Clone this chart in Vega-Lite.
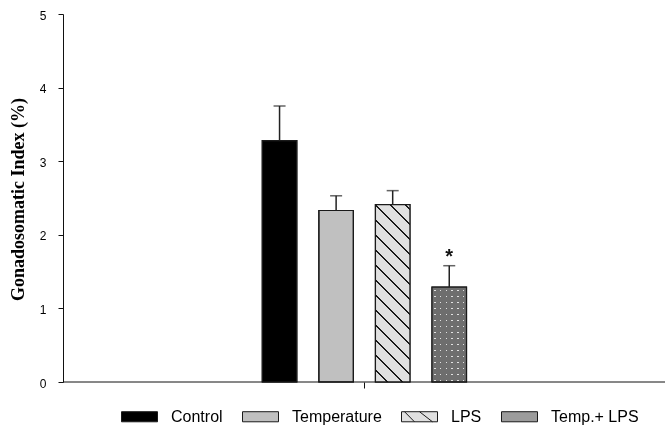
{
  "$schema": "https://vega.github.io/schema/vega-lite/v6.json",
  "autosize": "none",
  "width": 602,
  "height": 368,
  "padding": {"left": 63, "top": 14, "right": 3, "bottom": 47},
  "background": "white",
  "config": {"view": {"stroke": null}, "axis": {"grid": false}},
  "data": {
    "values": [
      {"group": "Control", "gsi": 3.28, "upper": 3.75, "sig": ""},
      {"group": "Temperature", "gsi": 2.33, "upper": 2.53, "sig": ""},
      {"group": "LPS", "gsi": 2.41, "upper": 2.6, "sig": ""},
      {"group": "Temp.+ LPS", "gsi": 1.29, "upper": 1.58, "sig": "*"}
    ]
  },
  "encoding": {
    "y": {
      "field": "gsi",
      "type": "quantitative",
      "scale": {"domain": [0, 5], "nice": false},
      "axis": {
        "title": "Gonadosomatic Index (%)",
        "titleFont": "Liberation Serif",
        "titleFontWeight": "bold",
        "titleFontSize": 18,
        "titleColor": "#000",
        "titleX": -40,
        "titleY": 185,
        "titleAngle": -90,
        "titleAlign": "center",
        "titleBaseline": "alphabetic",
        "values": [0, 1, 2, 3, 4, 5],
        "labelFont": "Liberation Sans",
        "labelFontSize": 12,
        "labelColor": "#000",
        "labelPadding": 12,
        "labelOffset": 1,
        "tickSize": 5,
        "tickColor": "#111",
        "domainColor": "#111",
        "domainWidth": 1
      }
    }
  },
  "layer": [
    {
      "encoding": {
        "x": {
          "field": "group",
          "type": "nominal",
          "sort": null,
          "scale": {
            "domain": ["Control", "Temperature", "LPS", "Temp.+ LPS"],
            "range": [199.3, 403.5],
            "paddingInner": 0.39,
            "paddingOuter": 0
          },
          "axis": {
            "title": null,
            "labels": false,
            "domain": false,
            "values": ["Temperature"],
            "bandPosition": 0.5,
            "tickOffset": 27.8,
            "tickSize": 6,
            "tickColor": "#111",
            "tickWidth": 1
          }
        }
      },
      "layer": [
        {
          "mark": {"type": "bar", "stroke": "#1a1a1a", "strokeWidth": 1.2},
          "encoding": {
            "fill": {
              "field": "group",
              "type": "nominal",
              "scale": {
                "domain": ["Control", "Temperature", "LPS", "Temp.+ LPS"],
                "range": ["#000000", "#c0c0c0", "#e0e0e0", "#9c9c9c"]
              }
            }
          }
        },
        {
          "transform": [{"filter": "datum.group === 'LPS'"}],
          "mark": {
            "type": "bar",
            "fill": {
              "gradient": "linear",
              "x1": 0, "y1": 1, "x2": 0.2336, "y2": -0.2,
              "stops": [
                {"offset": 0, "color": "#e0e0e0"},
                {"offset": 0.0498, "color": "#e0e0e0"}, {"offset": 0.0498, "color": "#1a1a1a"}, {"offset": 0.0588, "color": "#1a1a1a"}, {"offset": 0.0588, "color": "#e0e0e0"},
                {"offset": 0.1177, "color": "#e0e0e0"}, {"offset": 0.1177, "color": "#1a1a1a"}, {"offset": 0.1267, "color": "#1a1a1a"}, {"offset": 0.1267, "color": "#e0e0e0"},
                {"offset": 0.1856, "color": "#e0e0e0"}, {"offset": 0.1856, "color": "#1a1a1a"}, {"offset": 0.1946, "color": "#1a1a1a"}, {"offset": 0.1946, "color": "#e0e0e0"},
                {"offset": 0.2535, "color": "#e0e0e0"}, {"offset": 0.2535, "color": "#1a1a1a"}, {"offset": 0.2625, "color": "#1a1a1a"}, {"offset": 0.2625, "color": "#e0e0e0"},
                {"offset": 0.3214, "color": "#e0e0e0"}, {"offset": 0.3214, "color": "#1a1a1a"}, {"offset": 0.3304, "color": "#1a1a1a"}, {"offset": 0.3304, "color": "#e0e0e0"},
                {"offset": 0.3893, "color": "#e0e0e0"}, {"offset": 0.3893, "color": "#1a1a1a"}, {"offset": 0.3983, "color": "#1a1a1a"}, {"offset": 0.3983, "color": "#e0e0e0"},
                {"offset": 0.4572, "color": "#e0e0e0"}, {"offset": 0.4572, "color": "#1a1a1a"}, {"offset": 0.4662, "color": "#1a1a1a"}, {"offset": 0.4662, "color": "#e0e0e0"},
                {"offset": 0.5251, "color": "#e0e0e0"}, {"offset": 0.5251, "color": "#1a1a1a"}, {"offset": 0.5341, "color": "#1a1a1a"}, {"offset": 0.5341, "color": "#e0e0e0"},
                {"offset": 0.5930, "color": "#e0e0e0"}, {"offset": 0.5930, "color": "#1a1a1a"}, {"offset": 0.6020, "color": "#1a1a1a"}, {"offset": 0.6020, "color": "#e0e0e0"},
                {"offset": 0.6609, "color": "#e0e0e0"}, {"offset": 0.6609, "color": "#1a1a1a"}, {"offset": 0.6699, "color": "#1a1a1a"}, {"offset": 0.6699, "color": "#e0e0e0"},
                {"offset": 0.7288, "color": "#e0e0e0"}, {"offset": 0.7288, "color": "#1a1a1a"}, {"offset": 0.7378, "color": "#1a1a1a"}, {"offset": 0.7378, "color": "#e0e0e0"},
                {"offset": 0.7967, "color": "#e0e0e0"}, {"offset": 0.7967, "color": "#1a1a1a"}, {"offset": 0.8057, "color": "#1a1a1a"}, {"offset": 0.8057, "color": "#e0e0e0"},
                {"offset": 0.8646, "color": "#e0e0e0"}, {"offset": 0.8646, "color": "#1a1a1a"}, {"offset": 0.8736, "color": "#1a1a1a"}, {"offset": 0.8736, "color": "#e0e0e0"},
                {"offset": 0.9325, "color": "#e0e0e0"}, {"offset": 0.9325, "color": "#1a1a1a"}, {"offset": 0.9415, "color": "#1a1a1a"}, {"offset": 0.9415, "color": "#e0e0e0"},
                {"offset": 1, "color": "#e0e0e0"}
              ]
            }
          },
          "encoding": {}
        },
        {
          "transform": [{"filter": "datum.group === 'Temp.+ LPS'"}],
          "mark": {
            "type": "bar",
            "fill": {
              "gradient": "linear",
              "x1": 0, "y1": 0, "x2": 1, "y2": 0,
              "stops": [
                {"offset": 0, "color": "#000000"},
                {"offset": 0.0583, "color": "#000000"}, {"offset": 0.0583, "color": "#ffffff"}, {"offset": 0.1083, "color": "#ffffff"}, {"offset": 0.1083, "color": "#000000"},
                {"offset": 0.2250, "color": "#000000"}, {"offset": 0.2250, "color": "#ffffff"}, {"offset": 0.2750, "color": "#ffffff"}, {"offset": 0.2750, "color": "#000000"},
                {"offset": 0.3917, "color": "#000000"}, {"offset": 0.3917, "color": "#ffffff"}, {"offset": 0.4417, "color": "#ffffff"}, {"offset": 0.4417, "color": "#000000"},
                {"offset": 0.5583, "color": "#000000"}, {"offset": 0.5583, "color": "#ffffff"}, {"offset": 0.6083, "color": "#ffffff"}, {"offset": 0.6083, "color": "#000000"},
                {"offset": 0.7250, "color": "#000000"}, {"offset": 0.7250, "color": "#ffffff"}, {"offset": 0.7750, "color": "#ffffff"}, {"offset": 0.7750, "color": "#000000"},
                {"offset": 0.8917, "color": "#000000"}, {"offset": 0.8917, "color": "#ffffff"}, {"offset": 0.9417, "color": "#ffffff"}, {"offset": 0.9417, "color": "#000000"},
                {"offset": 1, "color": "#000000"}
              ]
            }
          },
          "encoding": {}
        },
        {
          "transform": [{"filter": "datum.group === 'Temp.+ LPS'"}],
          "mark": {
            "type": "bar",
            "blend": "multiply",
            "fill": {
              "gradient": "linear",
              "x1": 0, "y1": 0, "x2": 0, "y2": 1,
              "stops": [
                {"offset": 0, "color": "#000000"},
                {"offset": 0.0279, "color": "#000000"}, {"offset": 0.0279, "color": "#cccccc"}, {"offset": 0.0459, "color": "#cccccc"}, {"offset": 0.0459, "color": "#000000"},
                {"offset": 0.0911, "color": "#000000"}, {"offset": 0.0911, "color": "#cccccc"}, {"offset": 0.1091, "color": "#cccccc"}, {"offset": 0.1091, "color": "#000000"},
                {"offset": 0.1543, "color": "#000000"}, {"offset": 0.1543, "color": "#cccccc"}, {"offset": 0.1723, "color": "#cccccc"}, {"offset": 0.1723, "color": "#000000"},
                {"offset": 0.2176, "color": "#000000"}, {"offset": 0.2176, "color": "#cccccc"}, {"offset": 0.2356, "color": "#cccccc"}, {"offset": 0.2356, "color": "#000000"},
                {"offset": 0.2808, "color": "#000000"}, {"offset": 0.2808, "color": "#cccccc"}, {"offset": 0.2988, "color": "#cccccc"}, {"offset": 0.2988, "color": "#000000"},
                {"offset": 0.3440, "color": "#000000"}, {"offset": 0.3440, "color": "#cccccc"}, {"offset": 0.3620, "color": "#cccccc"}, {"offset": 0.3620, "color": "#000000"},
                {"offset": 0.4072, "color": "#000000"}, {"offset": 0.4072, "color": "#cccccc"}, {"offset": 0.4252, "color": "#cccccc"}, {"offset": 0.4252, "color": "#000000"},
                {"offset": 0.4705, "color": "#000000"}, {"offset": 0.4705, "color": "#cccccc"}, {"offset": 0.4885, "color": "#cccccc"}, {"offset": 0.4885, "color": "#000000"},
                {"offset": 0.5337, "color": "#000000"}, {"offset": 0.5337, "color": "#cccccc"}, {"offset": 0.5517, "color": "#cccccc"}, {"offset": 0.5517, "color": "#000000"},
                {"offset": 0.5969, "color": "#000000"}, {"offset": 0.5969, "color": "#cccccc"}, {"offset": 0.6149, "color": "#cccccc"}, {"offset": 0.6149, "color": "#000000"},
                {"offset": 0.6601, "color": "#000000"}, {"offset": 0.6601, "color": "#cccccc"}, {"offset": 0.6781, "color": "#cccccc"}, {"offset": 0.6781, "color": "#000000"},
                {"offset": 0.7233, "color": "#000000"}, {"offset": 0.7233, "color": "#cccccc"}, {"offset": 0.7413, "color": "#cccccc"}, {"offset": 0.7413, "color": "#000000"},
                {"offset": 0.7866, "color": "#000000"}, {"offset": 0.7866, "color": "#cccccc"}, {"offset": 0.8046, "color": "#cccccc"}, {"offset": 0.8046, "color": "#000000"},
                {"offset": 0.8498, "color": "#000000"}, {"offset": 0.8498, "color": "#cccccc"}, {"offset": 0.8678, "color": "#cccccc"}, {"offset": 0.8678, "color": "#000000"},
                {"offset": 0.9130, "color": "#000000"}, {"offset": 0.9130, "color": "#cccccc"}, {"offset": 0.9310, "color": "#cccccc"}, {"offset": 0.9310, "color": "#000000"},
                {"offset": 0.9762, "color": "#000000"}, {"offset": 0.9762, "color": "#cccccc"}, {"offset": 0.9942, "color": "#cccccc"}, {"offset": 0.9942, "color": "#000000"},
                {"offset": 1, "color": "#000000"}
              ]
            }
          },
          "encoding": {}
        },
        {
          "transform": [{"filter": "datum.group === 'Temp.+ LPS'"}],
          "mark": {"type": "bar", "blend": "screen", "fill": "#6e6e6e"},
          "encoding": {}
        },
        {
          "mark": {"type": "bar", "fill": "#ffffff", "fillOpacity": 0, "stroke": "#1a1a1a", "strokeWidth": 1.2},
          "encoding": {}
        },
        {
          "mark": {"type": "rule", "color": "#222", "strokeWidth": 1.5},
          "encoding": {"y2": {"field": "upper"}}
        },
        {
          "mark": {"type": "tick", "orient": "horizontal", "color": "#222", "size": 12, "thickness": 1.5},
          "encoding": {"y": {"field": "upper", "type": "quantitative"}}
        },
        {
          "transform": [{"filter": "datum.sig !== ''"}],
          "mark": {"type": "text", "font": "Liberation Sans", "fontWeight": "bold", "fontSize": 20, "baseline": "alphabetic", "dy": -3, "color": "#111"},
          "encoding": {
            "y": {"field": "upper", "type": "quantitative"},
            "text": {"field": "sig"}
          }
        },
        {
          "mark": {"type": "point", "filled": true, "opacity": 0, "stroke": "#000"},
          "encoding": {
            "fill": {
              "field": "group",
              "type": "nominal",
              "legend": {
                "orient": "none",
                "legendX": 58,
                "legendY": 384,
                "direction": "horizontal",
                "columns": 4,
                "title": null,
                "padding": 0,
                "symbolSize": 1296,
                "symbolStrokeColor": "#000",
                "symbolStrokeWidth": 1,
                "symbolOpacity": 1,
                "labelFont": "Liberation Sans",
                "labelFontSize": 16,
                "labelColor": "#000",
                "labelOffset": 13,
                "columnPadding": 17
              }
            },
            "shape": {
              "field": "group",
              "type": "nominal",
              "scale": {
                "domain": ["Control", "Temperature", "LPS", "Temp.+ LPS"],
                "range": [
                  "M-1,-0.28H1V0.28H-1Z",
                  "M-1,-0.28H1V0.28H-1Z",
                  "M-1,-0.28H1V0.28H-1ZM-0.83,-0.28L-0.28,0.28M0,-0.28L0.72,0.28",
                  "M-1,-0.28H1V0.28H-1Z"
                ]
              },
              "legend": {
                "orient": "none",
                "legendX": 58,
                "legendY": 384,
                "direction": "horizontal",
                "columns": 4,
                "title": null,
                "padding": 0,
                "symbolSize": 1296,
                "symbolStrokeColor": "#000",
                "symbolStrokeWidth": 1,
                "symbolOpacity": 1,
                "labelFont": "Liberation Sans",
                "labelFontSize": 16,
                "labelColor": "#000",
                "labelOffset": 13,
                "columnPadding": 17
              }
            }
          }
        }
      ]
    },
    {
      "transform": [{"filter": "datum.group === 'Control'"}],
      "mark": {"type": "rule", "color": "#111", "strokeWidth": 1},
      "encoding": {"y": {"datum": 0}}
    }
  ]
}
